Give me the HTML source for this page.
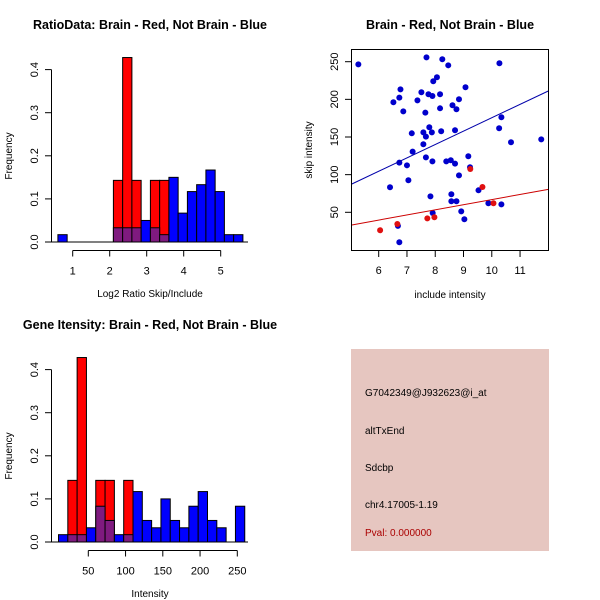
<!DOCTYPE html>
<html><head><meta charset="utf-8"><style>
body{margin:0;background:#fff}
svg{display:block;font-family:"Liberation Sans",sans-serif}
</style></head><body>
<svg id="s" width="600" height="600" viewBox="0 0 600 600" xmlns="http://www.w3.org/2000/svg">
<rect width="600" height="600" fill="#fff"/>
</svg>
<script>
// Ratio histogram (bin start values, width 0.25)
const ratioBinStart = 0.6;
const ratioBinWidth = 0.25;
const ratioRed = [0,0,0,0,0,0,0.143,0.428,0.143,0,0.143,0.143,0,0,0,0,0,0,0,0];
const ratioBlue = [0.017,0,0,0,0,0,0.033,0.033,0.033,0.05,0.033,0.017,0.15,0.067,0.117,0.133,0.167,0.117,0.017,0.017];
const ratioXTicks = [1,2,3,4,5];
const freqTicks = [0,0.1,0.2,0.3,0.4];
// Intensity histogram
const intBinStart = 10;
const intBinWidth = 12.5;
const intRed = [0,0.143,0.428,0,0.143,0.143,0,0.143,0,0,0,0,0,0,0,0,0,0,0,0];
const intBlue = [0.017,0.017,0.017,0.033,0.083,0.05,0.017,0.017,0.117,0.05,0.033,0.1,0.05,0.033,0.083,0.117,0.05,0.033,0,0.083];
const intXTicks = [50,100,150,200,250];
// Scatter
const blueX = [5.28,7.69,8.25,8.46,10.27,8.06,7.93,7.76,7.90,7.51,7.37,6.77,6.52,6.73,9.07,8.17,6.87,8.61,8.75,8.84,8.17,7.65,7.79,7.58,7.88,7.67,7.17,8.21,8.70,7.58,7.20,7.67,7.90,6.73,7.00,8.39,8.55,8.70,9.17,9.23,7.05,6.40,7.83,8.84,8.57,8.57,8.75,9.53,7.91,8.92,9.03,10.26,10.34,10.68,11.75,9.88,10.34,6.68,6.73];
const blueY = [246.5,255.8,253.2,245.2,247.9,229.3,224.0,206.7,204.5,209.4,198.7,213.3,196.1,202.3,216.0,206.7,184.1,192.1,186.8,200.1,188.1,182.4,162.9,156.2,156.2,150.5,154.9,157.6,158.9,140.3,130.6,123.0,117.7,116.0,112.4,117.7,119.1,114.6,124.4,109.8,92.5,83.2,71.2,99.1,73.9,64.6,64.6,79.2,49.1,51.3,40.7,161.6,176.2,143.0,146.9,62.0,60.6,31.9,10.2];
const redX = [6.05,6.66,7.72,7.97,9.24,9.67,10.06];
const redY = [26.1,34.5,42.0,43.4,107.5,83.6,62.0];
const blueLine = [[5.05,87.6],[12.0,211.1]];
const redLine = [[5.05,33.2],[12.0,80.5]];
const scXTicks = [6,7,8,9,10,11];
const scYTicks = [50,100,150,200,250];

const S = document.getElementById('s');
const NS = 'http://www.w3.org/2000/svg';
function mk(tag, at, parent){const e=document.createElementNS(NS,tag);for(const k in at)e.setAttribute(k,at[k]);(parent||S).appendChild(e);return e;}
function txt(x,y,s,at,parent){const e=mk('text',Object.assign({x:x,y:y,'font-size':11,'text-anchor':'middle',fill:'#000'},at||{}),parent);e.textContent=s;return e;}

function hist(g, y0px, x0val, x0px, pxPerUnit, binStart, binW, red, blue, xticks, title, xlab){
  const fy = v => y0px - v*431;
  const fx = v => x0px + (v - x0val)*pxPerUnit;
  const top = y0px - 172;
  const tt=txt(150, top-41, title, {'font-size':12.5,'font-weight':'bold'}, g);
  
  
  for(let i=0;i<red.length;i++){
    const a=fx(binStart+i*binW), b=fx(binStart+(i+1)*binW);
    if(red[i]>0){const r=mk('rect',{x:a,y:fy(red[i]),width:b-a,height:y0px-fy(red[i]),fill:'#ff0000',stroke:'#000','stroke-width':1},g);
      
      }
  }
  for(let i=0;i<blue.length;i++){
    const a=fx(binStart+i*binW), b=fx(binStart+(i+1)*binW);
    if(blue[i]>0){const col = red[i]>0 ? '#7f1a7f' : '#0000ff';
      const r=mk('rect',{x:a,y:fy(blue[i]),width:b-a,height:y0px-fy(blue[i]),fill:col,stroke:'#000','stroke-width':1},g);
      
      }
  }
  mk('line',{x1:50,x2:248,y1:y0px,y2:y0px,stroke:'#000'},g);
  const yax=mk('g',{},g);
  
  
  mk('line',{x1:51.5,x2:51.5,y1:fy(0),y2:fy(0.4),stroke:'#000'},yax);
  freqTicks.forEach(t=>{mk('line',{x1:45,x2:51.5,y1:fy(t),y2:fy(t),stroke:'#000'},yax);
    txt(0,0,t.toFixed(1),{transform:`translate(38,${fy(t)}) rotate(-90)`},yax);});
  txt(0,0,'Frequency',{'font-size':10,transform:`translate(12,${y0px-86}) rotate(-90)`},yax);
  const xax=mk('g',{},g);
  
  
  const ay=y0px+8.5;
  mk('line',{x1:fx(xticks[0]),x2:fx(xticks[xticks.length-1]),y1:ay,y2:ay,stroke:'#000'},xax);
  xticks.forEach(t=>{mk('line',{x1:fx(t),x2:fx(t),y1:ay,y2:ay+6,stroke:'#000'},xax);
    txt(fx(t),ay+24,String(t),{},xax);});
  txt(150,y0px+55,xlab,{'font-size':10},xax);
}
const g1=mk('g',{});  
hist(g1,242,1,72.7,37,ratioBinStart,ratioBinWidth,ratioRed,ratioBlue,ratioXTicks,'RatioData: Brain - Red, Not Brain - Blue','Log2 Ratio Skip/Include');
const g2=mk('g',{});  
hist(g2,542,50,88.3,0.745,intBinStart,intBinWidth,intRed,intBlue,intXTicks,'Gene Itensity: Brain - Red, Not Brain - Blue','Intensity');

const g3=mk('g',{});  
const sx=v=>378.7+(v-6)*28.27, sy=v=>212.3-(v-50)*0.753;
txt(450,29,'Brain - Red, Not Brain - Blue',{'font-size':12.5,'font-weight':'bold'},g3);
const clip=mk('clipPath',{id:'cp'},g3); mk('rect',{x:351.5,y:49.5,width:197,height:201},clip);
const pts=mk('g',{'clip-path':'url(#cp)'},g3);
for(let i=0;i<blueX.length;i++){const c=mk('circle',{cx:sx(blueX[i]),cy:sy(blueY[i]),r:3,fill:'#0000cc'},pts);
  
  }
for(let i=0;i<redX.length;i++){const c=mk('circle',{cx:sx(redX[i]),cy:sy(redY[i]),r:3,fill:'#e01010'},pts);
  
  }
const bl=mk('line',{x1:sx(blueLine[0][0]),y1:sy(blueLine[0][1]),x2:sx(blueLine[1][0]),y2:sy(blueLine[1][1]),stroke:'#0000aa'},pts);
 
const rl=mk('line',{x1:sx(redLine[0][0]),y1:sy(redLine[0][1]),x2:sx(redLine[1][0]),y2:sy(redLine[1][1]),stroke:'#cc0000'},pts);
 
mk('rect',{x:351.5,y:49.5,width:197,height:201,fill:'none',stroke:'#000'},g3);
scXTicks.forEach(t=>{mk('line',{x1:sx(t),x2:sx(t),y1:250.5,y2:257,stroke:'#000'},g3);txt(sx(t),274,String(t),{},g3);});
scYTicks.forEach(t=>{mk('line',{x1:345,x2:351.5,y1:sy(t),y2:sy(t),stroke:'#000'},g3);
  txt(0,0,String(t),{transform:`translate(338,${sy(t)}) rotate(-90)`},g3);});
txt(450,298,'include intensity',{'font-size':10},g3);
txt(0,0,'skip intensity',{'font-size':10,transform:'translate(312,150) rotate(-90)'},g3);

const g4=mk('g',{});  
mk('rect',{x:351,y:349,width:198,height:202,fill:'#e6c6c0'},g4);
[['G7042349@J932623@i_at',396,'#000'],['altTxEnd',434,'#000'],['Sdcbp',471,'#000'],['chr4.17005-1.19',508,'#000'],['Pval: 0.000000',536,'#aa0000']].forEach(a=>{
  const t=txt(365,a[1],a[0],{'text-anchor':'start','font-size':10,fill:a[2]},g4);
  
  
});
</script>
</body></html>
